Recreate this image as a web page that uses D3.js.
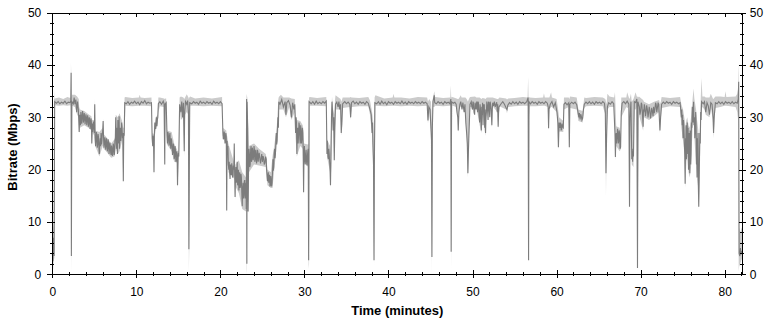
<!DOCTYPE html>
<html><head><meta charset="utf-8">
<script src="https://cdn.jsdelivr.net/npm/d3@7"></script>
<style>body{margin:0;background:#fff}svg{display:block}text{font-family:"Liberation Sans",Arial,sans-serif}</style>
</head><body><svg id="c" width="774" height="324"></svg>
<script>
const xMajorTicks=[0,10,20,30,40,50,60,70,80];
const xMinorTicks=[2,4,6,8,12,14,16,18,22,24,26,28,32,34,36,38,42,44,46,48,52,54,56,58,62,64,66,68,72,74,76,78,82];
const yMajorTicks=[0,10,20,30,40,50];
const yMinorTicks=[2,4,6,8,12,14,16,18,22,24,26,28,32,34,36,38,42,44,46,48];
const xTitle="Time (minutes)";
const yTitle="Bitrate (Mbps)";

// dark series: [minutes, Mbps]
const rateSeries=[
[0,4],[0.08,2.5],[0.15,7],[0.22,3.5],[0.28,33],[0.5,32.7],[0.7,33.0],[0.9,32.6],[1.1,32.9],[1.3,32.7],[1.5,33.1],[1.7,32.6],[1.9,32.9],[2.1,32.8],[2.2,33.2],[2.24,38.5],[2.27,3.5],[2.3,20],[2.33,33],
[2.5,32.6],[2.6,33.8],[2.7,32.5],[2.8,33.4],[2.9,31],[3.0,33],[3.1,31.5],
[3.2,27.2],[3.25,30.5],[3.3,29],[3.35,28.5],[3.4,31],[3.45,30.2],[3.5,28.8],[3.55,29.8],[3.6,31.2],[3.65,30.5],[3.7,29],[3.75,29.6],[3.8,30.8],[3.85,30.1],[3.9,28.7],[3.95,29.5],[4.0,30.6],[4.05,30],[4.1,28.5],[4.15,29.3],[4.2,30.4],[4.25,29.8],[4.3,28.2],[4.35,28.9],[4.4,30],[4.45,29.5],[4.5,27.8],[4.55,28.6],[4.6,29.8],[4.65,29.2],[4.7,25],[4.75,28.8],[4.8,27.2],[4.85,28],[4.9,29.2],[4.95,28.5],[5.0,27],[5.05,32.5],
[5.1,26],[5.15,24.5],[5.2,25.5],[5.25,27.2],[5.3,26.5],[5.35,24.2],[5.4,24.8],[5.45,26.8],[5.5,26.2],[5.55,24],[5.6,23],[5.65,25],[5.7,26],[5.75,24.5],[5.8,27],[5.85,24.8],[5.9,25.5],[5.95,26.8],[6.0,27.5],[6.05,29.3],[6.1,26],[6.15,24.2],[6.2,25],[6.25,26.2],[6.3,25.5],[6.35,23.8],[6.4,24.6],[6.45,26],[6.5,25.2],[6.55,23.5],[6.6,24.2],[6.65,25.8],[6.7,25],[6.75,23],[6.8,23.8],[6.85,25.2],[6.9,24.5],[6.95,23.2],[7.0,22.8],[7.05,24.6],[7.1,24],[7.15,22.6],[7.2,23.5],[7.25,25],[7.3,24.5],[7.35,22.8],[7.4,23],[7.45,25.5],
[7.5,26],[7.55,30],[7.6,25],[7.65,24],[7.7,28],[7.75,23],[7.8,29.5],[7.85,25],[7.9,26],[7.95,30.2],[8.0,24],[8.05,26.5],[8.1,28],[8.15,25.5],[8.2,26.5],[8.25,29],[8.3,28],[8.35,26],[8.4,27],[8.45,17.8],[8.5,27],[8.55,26.5],[8.62,32.8],
[8.8,32.6],[9.0,33.0],[9.2,32.5],[9.4,32.9],[9.6,32.7],[9.8,33.1],[10.0,32.6],[10.2,32.9],[10.4,32.4],[10.6,33.0],[10.8,32.7],[11.0,33.2],[11.2,32.6],[11.4,32.9],[11.6,32.7],[11.8,32.8],
[11.88,26],[11.95,24.5],[12.0,26.5],[12.05,25],[12.1,19.5],[12.15,27],[12.2,29],[12.25,28.5],[12.3,27.8],[12.35,29.2],[12.4,30],[12.45,28.3],[12.5,29.5],[12.55,30],[12.62,32.6],[12.8,33],[13.0,32.5],[13.2,33.1],[13.3,32.6],[13.38,21],[13.42,32.5],[13.55,32.8],
[13.65,26.5],[13.7,25],[13.75,27.2],[13.8,26.8],[13.85,25.5],[13.9,24.6],[13.95,26.5],[14.0,27],[14.05,25],[14.1,24],[14.15,26],[14.2,25.6],[14.25,24.5],[14.3,22.8],[14.35,23.5],[14.4,25],[14.45,24.2],[14.5,22],[14.55,22.5],[14.6,24.5],[14.65,23.8],[14.7,21.5],[14.75,22],[14.8,23.5],[14.85,22.8],[14.9,17],[14.95,22],[15.0,23.2],[15.05,22.5],[15.15,32.5],
[15.3,31],[15.4,33],[15.5,30],[15.6,32.8],[15.7,23.5],[15.75,31],[15.85,33],[16.0,32.5],[16.1,33.2],[16.2,31],[16.25,4.8],[16.3,20],[16.35,32.8],
[16.6,32.6],[16.8,33],[17.0,32.7],[17.2,32.9],[17.4,32.5],[17.6,33.1],[17.8,32.7],[18.0,32.9],[18.2,32.6],[18.4,33],[18.6,32.7],[18.8,32.9],[19.0,32.5],[19.2,33.1],[19.4,32.7],[19.6,32.9],[19.8,32.6],[20.0,33],[20.2,32.6],
[20.3,27],[20.35,25.8],[20.4,26],[20.45,27.3],[20.5,26.8],[20.55,25],[20.6,25.5],[20.65,27],[20.7,26.3],[20.75,12.2],[20.8,25.5],[20.85,23.5],[20.9,24.5],[20.95,21],[21.0,20],[21.05,21.5],[21.1,19.5],[21.15,18.2],[21.2,21],[21.25,19.8],[21.3,19],[21.35,21.2],[21.4,20.5],[21.45,18.5],[21.5,18.8],[21.55,20.8],[21.6,20],[21.65,25],[21.7,19],[21.75,14.8],[21.8,19.5],[21.85,20.5],[21.9,17.5],[21.95,19],[22.0,21.5],[22.05,17],[22.1,18.5],[22.15,20],[22.2,16],[22.25,18],[22.3,19.5],[22.35,16.5],[22.4,17],[22.45,19.2],[22.5,18.5],[22.55,15.5],[22.6,13],[22.65,16.5],[22.7,17.5],[22.75,14.5],[22.8,15],[22.85,17.8],[22.9,18],[22.95,14.5],[23.0,16],[23.05,17.5],[23.08,12.5],[23.12,33.5],[23.15,2],[23.18,33],[23.25,28],[23.3,12],[23.35,20],
[23.4,24],[23.45,23],[23.5,20.5],[23.55,21],[23.6,23.8],[23.65,24.5],[23.7,21.5],[23.75,22],[23.8,24.2],[23.85,23.5],[23.9,21.8],[23.95,22.5],[24.0,24.5],[24.05,23.8],[24.1,21.5],[24.15,22],[24.2,23.8],[24.25,23],[24.3,21.2],[24.35,21.8],[24.4,23.8],[24.45,23.5],[24.5,21.5],[24.55,22.5],[24.62,23.2],[24.7,22],[24.78,21.2],[24.85,22.3],[24.92,23],[25.0,21.5],[25.08,22.6],[25.15,22.2],[25.22,21],[25.3,21.3],[25.38,22.5],[25.45,22],
[25.5,20],[25.55,19],[25.6,17.8],[25.65,18.5],[25.7,19.5],[25.75,17.5],[25.8,18.2],[25.85,19],[25.9,16.8],[25.95,17],[26.0,18.8],[26.05,18],[26.1,16.8],[26.15,17.5],[26.2,19.5],[26.25,22],[26.3,19.8],[26.35,20.5],[26.4,23],[26.45,24],[26.5,22.2],[26.55,23],[26.6,25.5],[26.65,27],[26.7,24.8],[26.75,25.5],[26.8,28.5],[26.85,30],[26.9,28],[26.95,33],
[27.1,32.5],[27.3,33.4],[27.5,32],[27.7,33],[27.8,30.5],[27.9,32.8],[28.1,33.2],[28.3,32.3],[28.45,30],[28.6,32.8],[28.75,31.5],[28.85,32.5],
[28.95,27],[29.0,30],[29.05,29],[29.1,23],[29.15,27],[29.2,28],[29.25,25],[29.3,26.5],[29.35,29],[29.4,28.5],[29.45,26],[29.5,25],[29.55,28.5],[29.6,27.5],[29.65,25],[29.7,26],[29.75,28],[29.8,27],[29.85,24],[29.9,15.7],[29.95,23],[30.0,24.5],[30.05,22],[30.1,21],[30.15,22.8],[30.2,23.8],[30.25,21.5],[30.3,20.8],[30.35,22.5],[30.4,23.5],[30.45,24],[30.5,2.7],[30.55,33],
[30.8,32.6],[31.0,33],[31.2,32.5],[31.4,33.1],[31.6,32.6],[31.8,32.9],[32.0,32.6],[32.2,33],[32.4,32.7],[32.6,33.1],
[32.68,23],[32.72,25.5],[32.75,24.5],[32.8,22.5],[32.85,22],[32.9,24],[32.95,23],[33.0,21.5],[33.05,20],[33.1,17],[33.15,22],[33.22,30],[33.28,33],[33.35,31],[33.42,27.5],[33.5,30],[33.55,21.8],[33.62,28],[33.7,32.5],[33.85,32.9],[34.0,32],[34.1,33],[34.2,31.5],[34.3,32.5],[34.38,27],[34.45,29],[34.55,32.6],
[34.8,33],[35.0,32.6],[35.2,32.9],[35.4,32.5],[35.5,30],[35.6,32.8],[35.8,33.1],[36.0,32.6],[36.2,32.9],[36.4,32.5],[36.6,33],[36.8,32.7],[37.0,32.9],[37.2,32.5],[37.4,33],[37.6,32.7],[37.8,31.5],[37.95,30.5],[38.05,27],[38.1,29],[38.15,25],[38.22,21],[38.28,2.7],[38.32,20],[38.38,32.8],
[38.6,32.6],[38.8,33],[39.0,32.5],[39.2,33.1],[39.4,32.6],[39.6,32.9],[39.8,32.4],[40.0,33],[40.2,32.7],[40.4,32.9],[40.6,32.5],[40.8,33],[41.0,32.7],[41.2,32.9],[41.4,32.6],[41.6,33.1],[41.8,32.6],[42.0,32.9],[42.2,32.5],[42.4,33],[42.6,32.7],[42.8,32.9],[43.0,32.6],[43.2,33],[43.4,32.7],[43.6,32.9],[43.8,32.6],[44.0,33],[44.2,32.7],[44.4,32.9],[44.6,32.6],
[44.7,29.4],[44.8,32],[44.95,31.5],[45.05,28],[45.12,25.6],[45.17,3.3],[45.22,28],[45.3,33],[45.45,34.2],[45.5,32.8],
[45.7,32.6],[45.9,33],[46.1,32.7],[46.3,32.9],[46.5,32.5],[46.7,33],[46.9,32.7],[47.1,32.9],[47.3,32.6],[47.42,33.5],[47.46,4.3],[47.5,33],
[47.7,32.7],[47.9,32.9],[48.05,32.5],[48.15,31],[48.25,30],[48.3,27.5],[48.38,31],[48.5,32.5],[48.6,33],[48.75,31.5],[48.85,32.8],[49.0,31],[49.1,32.5],[49.2,29],[49.3,27],[49.38,25],[49.45,19.3],[49.52,24],[49.6,28],[49.7,32.5],
[49.85,33],[49.92,32],[50.0,31.5],[50.05,33],[50.1,32.8],[50.18,31],[50.25,30.5],[50.3,32.8],[50.35,32.5],[50.42,31.5],[50.5,33],[50.55,32],[50.6,31],[50.65,33],[50.7,32.8],[50.78,30.5],[50.85,29],[50.9,32.5],[50.95,31.5],[51.0,29.5],[51.05,27.5],[51.1,32],[51.15,30.5],[51.2,32.8],[51.25,28.5],[51.3,32.5],[51.35,31],[51.4,32.5],[51.45,28],[51.5,31.5],[51.55,27],[51.6,30],[51.65,31],[51.7,33],[51.75,32.5],[51.8,31],[51.85,29.5],[51.9,33],[51.95,32.8],[52.0,31.5],[52.05,30],[52.1,33],[52.15,32.5],[52.22,31.5],[52.3,28.5],[52.35,31.5],[52.4,32.8],[52.5,32.2],[52.6,33],[52.7,32],[52.8,32.5],[52.88,32.9],[52.95,31],[53.0,32.5],[53.05,28.2],[53.1,31],[53.15,32],
[53.4,32.6],[53.6,33],[53.8,32.5],[54.0,31.8],[54.1,31.5],[54.2,32.3],[54.4,32.8],[54.6,32.5],[54.8,33],[55.0,32.6],[55.2,32.9],[55.4,32.5],[55.6,33],[55.8,32.7],[56.0,32.9],[56.2,32.6],[56.45,33],[56.62,33.8],[56.67,2.7],[56.72,33],
[56.9,32.6],[57.1,33],[57.3,32.7],[57.5,32.9],[57.7,32.5],[57.9,33],[58.1,32.7],[58.3,32.9],[58.5,32.6],[58.7,33],[58.9,32.7],[59.0,32],[59.05,27.9],[59.1,31.5],[59.25,32.5],[59.45,33],[59.65,32],[59.85,32.8],
[60.05,31],[60.15,29],[60.22,24.3],[60.3,29],[60.4,28],[60.45,29],[60.5,28.5],[60.55,27.5],[60.6,27.7],[60.65,28.8],[60.7,28.2],[60.8,28],[60.88,32.5],[61.05,32.8],[61.25,32.4],[61.45,32.8],[61.52,24.3],[61.58,32.5],[61.8,32.9],[62.0,32.6],[62.2,32.9],[62.4,32.4],[62.55,31],[62.65,30],[62.72,30.8],[62.8,29.6],[62.88,30.6],[62.95,30.2],[63.02,29.5],[63.1,29.8],[63.2,31.5],[63.3,32.5],
[63.5,32.9],[63.7,32.6],[63.9,33],[64.1,32.6],[64.3,32.9],[64.5,32.5],[64.7,33],[64.9,32.7],[65.1,32.9],[65.3,32.6],[65.5,33],[65.7,32.7],[65.8,31],[65.88,19.3],[65.95,26],[66.05,32],[66.2,32.8],[66.4,32.5],[66.6,33],[66.8,32.6],
[66.95,27],[67.0,22.4],[67.05,26],[67.1,27],[67.15,25],[67.2,26],[67.25,27.8],[67.3,27.2],[67.35,25],[67.4,25.5],[67.45,27.5],[67.5,26.8],[67.55,24],[67.62,24.3],[67.7,31],[67.8,32.7],[68.0,33],[68.2,32.6],[68.4,33.1],[68.6,32.5],[68.68,12.9],[68.74,30],[68.85,33],[68.95,22],[69.0,24],[69.05,21.5],[69.1,23.5],[69.15,22.5],[69.25,33],[69.4,32.8],[69.55,33.5],[69.63,1.2],[69.68,33],
[69.85,32],[69.92,30.5],[70.0,31.2],[70.08,32.8],[70.15,32.5],[70.22,30.5],[70.3,28.2],[70.34,31.5],[70.38,31],[70.44,32.5],[70.5,32],[70.58,30.2],[70.65,31],[70.72,32.3],[70.8,31.6],[70.88,30],[70.95,30.8],[71.02,32],[71.1,31.4],[71.18,29.8],[71.25,30.6],[71.32,31.8],[71.4,31.2],[71.48,30.2],[71.55,32],[71.62,30.8],[71.7,31.5],[71.78,32.8],[71.85,32.5],[71.92,31],[72.0,31.8],[72.08,32.8],[72.15,32.5],[72.3,27.5],[72.38,30],[72.5,32.5],
[72.7,32.9],[72.9,32.6],[73.1,33],[73.3,32.7],[73.5,32.9],[73.7,32.5],[73.9,33],[74.1,32.7],[74.3,32.9],[74.5,32.6],[74.7,32.8],
[74.85,30],[74.9,31.5],[74.95,28.5],[75.0,30.5],[75.05,26],[75.1,29.5],[75.15,28],[75.2,25.5],[75.25,23],[75.3,17.3],[75.35,26],[75.38,24],[75.42,28.5],[75.45,22],[75.5,27],[75.55,29],[75.6,23],[75.65,28],[75.7,20],[75.75,24],[75.78,27],[75.82,22],[75.85,19.3],[75.9,27.5],[75.92,25],[75.96,21],[76.0,23],[76.05,29],[76.1,28],[76.15,32],[76.2,31],[76.25,29],[76.3,33],[76.35,28.5],[76.4,30],[76.45,26],[76.5,27.5],[76.55,31],[76.6,29],[76.65,21],[76.7,26],[76.72,18.5],[76.76,25],[76.8,23],[76.84,27],[76.87,17],[76.92,12.9],[76.98,20],[77.02,24],[77.05,27],[77.1,25],[77.15,31],[77.2,29.5],[77.25,33],
[77.45,32.6],[77.6,33],[77.75,31],[77.9,32.8],[78.05,32.2],[78.2,30.5],[78.35,32.8],[78.5,32.5],[78.62,30],[78.68,27],[78.75,30],[78.9,32.8],
[79.1,32.6],[79.3,33],[79.5,32.6],[79.7,32.9],[79.9,32.5],[80.1,33],[80.3,32.7],[80.5,32.9],[80.7,32.6],[80.9,33],[81.1,32.6],[81.3,32.9],[81.5,32.7],[81.62,33.5],[81.67,36.8],[81.72,4],[81.8,3.5],[81.88,5],[81.95,3.8],[82.05,4.5]
];

// light envelope: [minutes, low Mbps, high Mbps]
const rangeSeries=[
[0,0.5,7],[0.1,1,9],[0.18,3,10],[0.2,3,35.5],[0.25,3,33.5],[0.3,32.3,33.6],[0.8,32.2,33.8],[1.3,32.3,33.5],[1.8,32.2,33.9],[2.15,32.3,33.7],[2.2,32,34],[2.22,20,40.4],[2.26,0,38],[2.3,13,33.8],[2.35,32.2,34.3],[2.7,32,34.3],
[2.95,30.5,34],[3.15,30,33.5],[3.2,27,32],[3.3,28,31.5],[3.8,28.5,31.2],[4.3,28,30.6],[4.65,27.5,30.2],[4.7,24.5,29.6],[4.8,27,29.5],[5.0,26.5,29.5],[5.05,25.5,33.5],[5.1,24.5,27.5],[5.6,22.5,27.2],[6.0,24.5,28],[6.05,24.5,29.8],[6.1,24,26.8],[6.4,23.5,26.3],[7.0,22.3,25],[7.4,22.5,25.8],[7.5,23.5,26.5],[7.55,24,30.5],[7.8,23,30],[8.0,23.5,30.8],[8.3,25.5,29.3],[8.45,17.5,28],[8.55,26,28],[8.6,26.5,33.8],
[8.7,32.2,33.9],[9.5,32.1,33.7],[10.3,32.2,33.8],[10.4,32.2,34.3],[10.5,32.2,33.8],[11.0,32.2,33.7],[11.8,32.1,33.8],[11.88,25.5,27],[12.05,24,26.8],[12.1,19,27],[12.15,26,27.8],[12.3,27.5,30],[12.55,29,30.5],[12.62,31,33.8],[12.8,32.1,33.8],[13.3,32,33.6],[13.38,20.8,33.5],[13.45,31.5,33.6],[13.55,31.5,33.6],[13.65,24.8,27.5],[14.2,23.5,27.2],[14.5,21.5,25],[14.85,21.3,23.8],[14.9,16.5,23.5],[15.05,21.5,23.5],[15.15,31.5,33.8],[15.3,29.5,34],[15.6,30,33.8],[15.7,22.5,33.5],[15.8,30.5,33.8],[16.0,31,34.4],[16.2,30.5,33.8],[16.25,0.5,33.5],[16.3,5,33.8],[16.4,32.2,34],
[17,32.2,33.6],[18,32.1,33.8],[19,32.2,33.6],[20.2,32.1,33.9],[20.28,26.5,28],[20.7,24.8,27.5],[20.75,11.5,26.8],[20.8,23.5,26.5],[20.95,19.5,25],[21.6,18.3,21.5],[21.65,19,25.5],[21.7,18,20.5],[21.75,14.2,20.5],[21.8,16.8,21],[22.2,15.5,21.8],[22.6,12.5,19.5],[23.05,12,18.5],[23.1,12,33.5],[23.12,1,34.5],[23.15,0,34.2],[23.2,27,33.8],[23.3,11.5,28.5],[23.4,19.5,24.5],[24.0,21,25],[24.6,20.8,24],[25.4,20.5,23],[25.5,18.5,22],[25.6,17,20],[26.0,16.5,19.5],[26.2,16.5,22.5],[26.4,19.8,24.5],[26.7,24.5,28],[26.9,27.5,33.5],[26.95,31.5,33.9],
[27.2,31.5,34.3],[27.5,31.5,33.8],[27.8,30,33.8],[28.2,32,33.8],[28.45,29.5,33.6],[28.85,31,33.5],[28.95,26,30.5],[29.1,22.5,29.5],[29.5,24.5,29.3],[29.8,24,28.5],[29.9,15,27.5],[29.95,22,25],[30.4,20.5,24.8],[30.48,22,25],[30.5,1,24],[30.55,2,33.8],[30.65,32.2,33.9],[31.5,32.2,33.7],[32.6,32.1,33.9],[32.68,22.5,25.8],[33.05,19.5,24.5],[33.1,16.5,23],[33.2,21,30.5],[33.28,29.5,34],[33.42,27,31.5],[33.55,21.5,30.5],[33.65,28,33.5],[33.7,31.5,34.2],[34.3,31.5,33.5],[34.38,26.5,33],[34.5,28.5,33.5],[34.55,31.8,33.8],
[35.4,32,33.8],[35.5,29.5,33.9],[35.6,32,33.8],[36.5,32.1,33.7],[37.6,32.1,33.9],[37.8,30.5,33.2],[38.05,26.5,31],[38.2,20.5,29],[38.28,1.5,25],[38.35,18,33.8],[38.45,32.2,34.2],[39.5,32.1,33.6],[40.5,32.2,33.8],[40.6,32.2,34.5],[40.7,32.2,33.8],[41.5,32.1,33.8],[42.5,32.2,33.6],[43.5,32.1,33.9],[44.6,32.2,33.8],[44.7,28.8,33],[44.85,31,33.5],[45.05,27.5,33],[45.12,25,31],[45.17,0,29],[45.22,20,33],[45.3,32,33.8],[45.45,32,35],[45.55,32.2,33.9],
[46.5,32.1,33.7],[47.35,32.2,33.8],[47.42,32,36.1],[47.46,0.8,34],[47.52,20,33.8],[47.6,32.2,33.9],[48.1,32,33.6],[48.25,29.5,33.5],[48.3,27,33.5],[48.38,31.5,33.6],[48.6,32.1,34.2],[48.7,32,33.8],[49.15,32,33.8],[49.3,26.5,33.5],[49.45,18.5,33],[49.6,27.5,33.6],[49.7,32,33.9],[50.3,32,34],[50.45,32,33.8],[50.85,28.5,33.8],[51.05,27,33.5],[51.2,31.5,33.7],[51.45,27.5,33.6],[51.55,26.5,33.5],[51.7,32,33.8],[52.2,32,33.8],[52.3,28,33.8],[52.4,32.1,33.8],[52.95,31,33.5],[53.05,27.8,33.5],[53.2,32.1,33.8],
[54.0,31.5,33.6],[54.1,30.8,33.4],[54.25,32,33.6],[55,32.1,33.7],[56.0,32.2,33.9],[56.55,32.2,33.8],[56.62,32,37.7],[56.67,2,33.5],[56.72,30,33.9],[56.8,32.1,33.8],[57.5,32.1,33.7],[58.4,32.2,33.8],[58.5,32.2,34.6],[58.6,32.2,33.8],[58.95,32,33.8],[59.05,27.5,33.8],[59.15,31.5,33.8],[59.35,32,34.8],[59.45,32,33.8],[60.0,31,33.5],[60.15,28.5,32],[60.22,23.8,31],[60.3,27.3,30],[60.8,27.2,29.3],[60.88,31.5,33.8],[61.45,32,33.8],[61.52,23.8,33.5],[61.6,31.8,34],[62.4,31.5,33.8],[62.6,29.3,31.5],[63.1,29,31.2],[63.3,31.8,33.8],
[63.5,32.1,33.7],[64.5,32.2,33.9],[65.5,32.1,33.8],[65.8,30.5,33.5],[65.88,14.8,33],[65.95,25,32.5],[66.05,31.5,34.5],[66.3,32,34],[66.85,32,33.8],[66.95,26.5,34.8],[67.0,21.8,33],[67.1,24.5,28.3],[67.5,23.5,28],[67.62,23.8,27],[67.7,30,33.8],[68.3,32,33.8],[68.4,31.8,34.8],[68.6,32,33.8],[68.68,12.3,33.5],[68.74,29.5,33.8],[68.85,32,34.5],[68.95,21,33],[69.15,20.5,33.5],[69.25,31.5,34],[69.4,31.5,34.8],[69.55,32,34],[69.63,0,34],[69.68,15,33.8],[69.8,30.5,34],
[70.3,27.5,33.3],[70.4,30,33],[71.0,29.5,32.5],[71.6,30.2,33],[72.2,31,33.3],[72.3,27,32.5],[72.4,29.5,33],[72.5,31.8,33.9],[73.5,32.1,33.7],[74.7,32,33.9],[74.85,28,32.5],[75.05,25.5,31.5],[75.25,22.5,29.5],[75.3,16.5,28],[75.45,21.5,29.5],[75.55,22.5,30],[75.7,19.5,28.5],[75.85,18.5,28],[76.0,20.5,30],[76.2,28.5,33.8],[76.3,32,35.5],[76.4,26,33.5],[76.6,20.5,31.5],[76.72,18,29.5],[76.87,16.5,27.5],[76.92,12.5,24],[77.05,19.5,28],[77.15,29.5,33.5],[77.25,31.5,37.5],[77.35,32,34],[77.6,31.5,34],[77.75,30.5,33.8],[78.2,30,33.8],[78.35,32,34.5],[78.6,29.5,33.6],[78.68,26,33.5],[78.8,29.5,33.8],[78.9,31.8,34],
[79.5,32,34],[80.0,32.2,33.9],[80.1,32.2,35],[80.2,32.2,33.9],[81.3,32,34],[81.5,31,34.5],[81.6,29.5,35.5],[81.62,30,38],[81.67,0.5,40.3],[81.72,1.5,9],[81.85,2,8],[82.05,3,9]
];

const svg=d3.select("#c");
const L=52.3,R=742.3,T=12.7,B=274.3;
const x=d3.scaleLinear().domain([0,82.1]).range([L,R]);
const y=d3.scaleLinear().domain([0,50]).range([B,T]);

svg.append("path").datum(rangeSeries)
  .attr("d",d3.area().x(d=>x(d[0])).y0(d=>y(d[1])).y1(d=>y(d[2])))
  .attr("fill","#cbcbcb");
svg.append("path").datum(rateSeries)
  .attr("d",d3.line().x(d=>x(d[0])).y(d=>y(d[1])))
  .attr("fill","none").attr("stroke","#7c7c7c").attr("stroke-width",1.1);

function styleAxis(g){g.select(".domain").remove();g.selectAll("line").attr("stroke","#000").attr("shape-rendering","crispEdges");g.selectAll("text").attr("font-size",12).attr("fill","#000").attr("font-family","Liberation Sans, Arial, sans-serif");}

// left
const gl=svg.append("g").attr("transform",`translate(${L},0)`)
  .call(d3.axisLeft(y).tickValues(yMajorTicks).tickSize(5).tickPadding(6).tickFormat(d3.format("d"))).call(styleAxis);
gl.selectAll(".tick line").attr("x1",-5).attr("x2",3);
svg.append("g").attr("transform",`translate(${L},0)`)
  .call(d3.axisLeft(y).tickValues(yMinorTicks).tickSize(2).tickFormat("")).call(styleAxis)
  .selectAll(".tick line").attr("x1",-2).attr("x2",2);
// right
const gr=svg.append("g").attr("transform",`translate(${R},0)`)
  .call(d3.axisRight(y).tickValues(yMajorTicks).tickSize(4).tickPadding(3.5).tickFormat(d3.format("d"))).call(styleAxis);
gr.selectAll(".tick line").attr("x1",-3).attr("x2",4);
svg.append("g").attr("transform",`translate(${R},0)`)
  .call(d3.axisRight(y).tickValues(yMinorTicks).tickSize(2).tickFormat("")).call(styleAxis)
  .selectAll(".tick line").attr("x1",-2).attr("x2",2);
// bottom
const gb=svg.append("g").attr("transform",`translate(0,${B})`)
  .call(d3.axisBottom(x).tickValues(xMajorTicks).tickSize(4).tickPadding(9).tickFormat(d3.format("d"))).call(styleAxis);
gb.selectAll(".tick line").attr("y1",-4).attr("y2",4);
svg.append("g").attr("transform",`translate(0,${B})`)
  .call(d3.axisBottom(x).tickValues(xMinorTicks).tickSize(2).tickFormat("")).call(styleAxis)
  .selectAll(".tick line").attr("y1",-2).attr("y2",2);
// top (inward only)
svg.append("g").attr("transform",`translate(0,${T})`)
  .call(d3.axisTop(x).tickValues(xMajorTicks).tickSize(-4).tickFormat("")).call(styleAxis);
svg.append("g").attr("transform",`translate(0,${T})`)
  .call(d3.axisTop(x).tickValues(xMinorTicks).tickSize(-2).tickFormat("")).call(styleAxis);

// frame
svg.append("rect").attr("x",Math.round(L)+0.5).attr("y",Math.round(T)+0.5)
  .attr("width",Math.round(R)-Math.round(L)).attr("height",Math.round(B)-Math.round(T))
  .attr("fill","none").attr("stroke","#000");

// titles
svg.append("text").attr("x",(L+R)/2).attr("y",315).attr("text-anchor","middle")
  .attr("font-size",13).attr("font-weight","bold").text(xTitle);
svg.append("text").attr("transform","translate(17,147) rotate(-90)").attr("text-anchor","middle")
  .attr("font-size",13).attr("font-weight","bold").text(yTitle);
</script></body></html>
